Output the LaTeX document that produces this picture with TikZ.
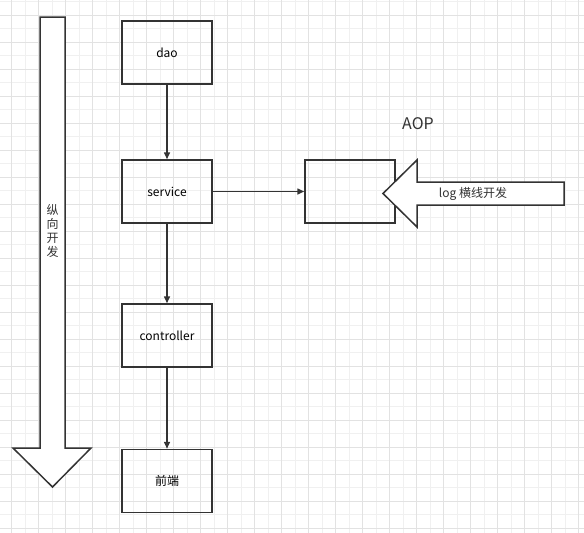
\documentclass[tikz,border=0pt]{standalone}
\usepackage{fontspec}
\setmainfont{Noto Sans CJK SC}
\usetikzlibrary{arrows.meta}

\definecolor{linegray}{HTML}{333333}
\definecolor{gridminor}{HTML}{F0F0F0}
\definecolor{gridmajor}{HTML}{E2E2E2}

\tikzset{
  layer/.style={draw=linegray, line width=1.5pt, minimum width=90pt, minimum height=63pt, inner sep=0pt, font=\fontsize{12}{14}\selectfont},
  flow/.style={draw=linegray, line width=1.5pt, -{Triangle[length=7pt,width=6pt]}},
  bigarrow/.style={draw=linegray, line width=1.5pt, fill=white, line join=miter}
}

\begin{document}
\begin{tikzpicture}[x=1pt,y=-1pt]
\useasboundingbox (0,0) rectangle (584,533);
\fill[white] (0,0) rectangle (584,533);

% grid
\foreach \i in {0,...,44} {
  \draw[gridminor, line width=0.6pt] ({-1.99+13.5*\i},0) -- ({-1.99+13.5*\i},533);
  \draw[gridminor, line width=0.6pt] (0,{1.5+13.5*\i}) -- (584,{1.5+13.5*\i});
}
\foreach \i in {0,...,22} {
  \draw[gridmajor, line width=0.6pt] ({11.5+27*\i-27},0) -- ({11.5+27*\i-27},533);
  \draw[gridmajor, line width=0.6pt] (0,{15+27*\i-27}) -- (584,{15+27*\i-27});
}

% vertical arrow
\draw[bigarrow] (40,17) -- (65,17) -- (65,448) -- (91,448) -- (52.5,487) -- (13,448) -- (40,448) -- cycle;
\node[align=center, font=\fontsize{12}{14}\selectfont, text=linegray] (vert) at (52.5,231) {纵\\向\\开\\发};

% layers
\node[layer] (dao) at (167,52.5) {dao};
\node[layer] (service) at (167,191.5) {service};
\node[layer] (controller) at (167,335.5) {controller};
\node[layer] (front) at (167,481) {前端};
\node[layer] (aop) at (350,191.5) {};
\node[font=\fontsize{16}{18}\selectfont, text=linegray] (aoplabel) at (418,124) {AOP};

\draw[flow] (dao) to (service);
\draw[flow] (service) to (controller);
\draw[flow] (controller) to (front);
\draw[flow] (service) to (aop);

% horizontal arrow
\draw[bigarrow] (564,182) -- (417,182) -- (417,160) -- (383,193.5) -- (417,227) -- (417,205) -- (564,205) -- cycle;
\node[font=\fontsize{12}{14}\selectfont, text=linegray] (log) at (473,194) {log 横线开发};
\end{tikzpicture}
\end{document}
